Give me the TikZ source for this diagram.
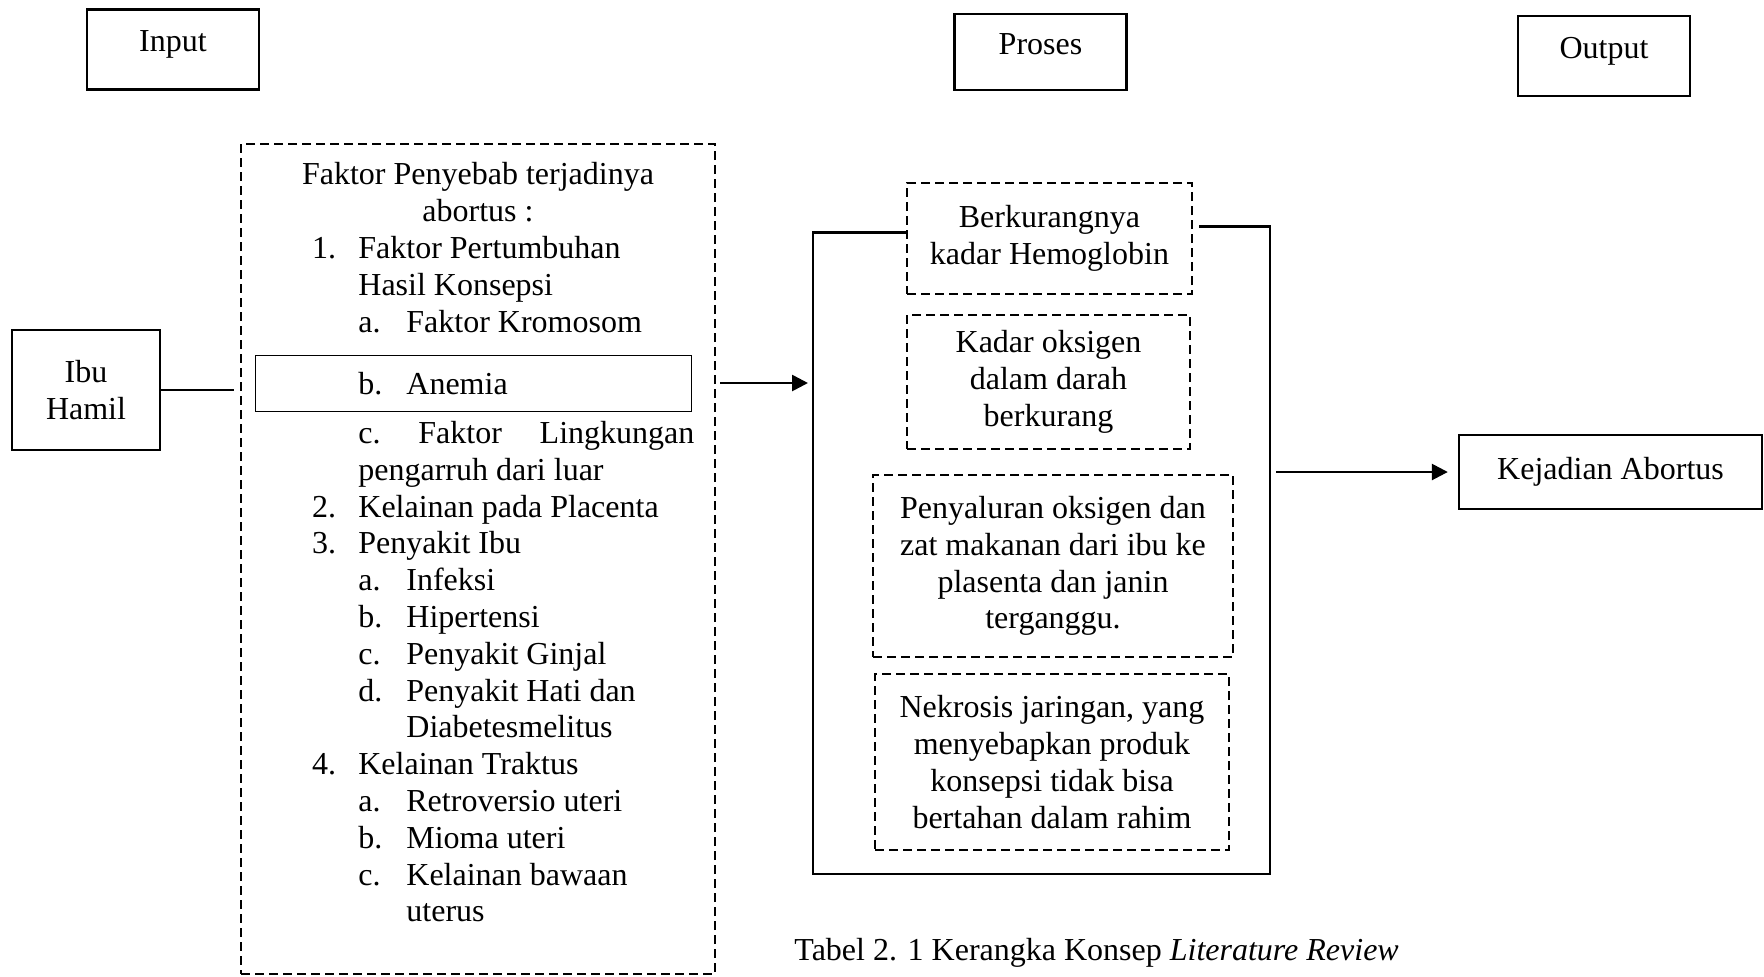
\documentclass[tikz,border=0pt]{standalone}
\usepackage{fontspec}
\setmainfont{Liberation Serif}
\usetikzlibrary{arrows.meta,
                positioning}

\newcommand{\numrow}[2]{\makebox[23.2pt][l]{#1}#2}
\newcommand{\subrow}[2]{\hspace*{23.2pt}\makebox[24pt][l]{#1}#2}
\newcommand{\controw}[1]{\hspace*{23.2pt}#1}
\newcommand{\subcont}[1]{\hspace*{47.2pt}#1}

\begin{document}
\begin{tikzpicture}[x=0.5pt, y=-0.5pt,
    font=\fontsize{16pt}{18.4pt}\selectfont,
    headbox/.style={draw, line width=1.2pt, minimum width=86pt, minimum height=40pt,
                    text height=11pt, text depth=9pt},
    solidbox/.style={draw, line width=1.2pt, align=center},
    dashbox/.style={draw, line width=1.1pt, dash pattern=on 4.5pt off 2.5pt, align=center},
    line/.style={line width=1.3pt},
    arrow/.style={line width=1.3pt, -{Triangle[length=8pt, width=8pt]}}]

    \useasboundingbox (0, 0) rectangle (1764, 976);

    \node[headbox] (input) at (173, 49.5) {Input};
    \node[headbox, minimum height=38pt] (proses) at (1040.5, 52) {Proses};
    \node[headbox] (output) at (1604, 56) {Output};

    \node[solidbox, minimum width=74pt, minimum height=60pt] (ibu) at (86, 390) {Ibu\\Hamil};

    \node[dashbox, minimum width=237pt, minimum height=415pt] (faktor) at (478, 559) {};
    \node[draw, line width=0.5pt, minimum width=218pt, minimum height=28pt] (anemia) at (473, 383) {};
    \node[anchor=north, align=center, inner sep=0pt] (faktorhead) at (478, 162)
      {Faktor Penyebab terjadinya\\abortus :};
    \node[anchor=north west, align=left, inner sep=0pt] (faktorlist) at (311.6, 236)
      {\numrow{1.}{Faktor Pertumbuhan}\\
       \controw{Hasil Konsepsi}\\
       \subrow{a.}{Faktor Kromosom}\\[12.5pt]
       \subrow{b.}{Anemia}\\[6.3pt]
       \controw{\makebox[168pt][s]{c.\hfill Faktor\hfill Lingkungan}}\\
       \controw{pengarruh dari luar}\\
       \numrow{2.}{Kelainan pada Placenta}\\
       \numrow{3.}{Penyakit Ibu}\\
       \subrow{a.}{Infeksi}\\
       \subrow{b.}{Hipertensi}\\
       \subrow{c.}{Penyakit Ginjal}\\
       \subrow{d.}{Penyakit Hati dan}\\
       \subcont{Diabetesmelitus}\\
       \numrow{4.}{Kelainan Traktus}\\
       \subrow{a.}{Retroversio uteri}\\
       \subrow{b.}{Mioma uteri}\\
       \subrow{c.}{Kelainan bawaan}\\
       \subcont{uterus}};

    \node[dashbox, minimum width=142.5pt, minimum height=55.5pt] (hb) at (1049.5, 238.5)
      {Berkurangnya\\kadar Hemoglobin};
    \node[dashbox, minimum width=141.5pt, minimum height=67pt] (oks) at (1048.5, 382)
      {Kadar oksigen\\dalam darah\\berkurang};
    \node[dashbox, minimum width=180pt, minimum height=91pt] (salur) at (1053, 566)
      {Penyaluran oksigen dan\\zat makanan dari ibu ke\\plasenta dan janin\\terganggu.};
    \node[dashbox, minimum width=177pt, minimum height=88pt] (nekro) at (1052, 762)
      {Nekrosis jaringan, yang\\menyebapkan produk\\konsepsi tidak bisa\\bertahan dalam rahim};

    \node[solidbox, minimum width=151.5pt, minimum height=37pt] (abortus) at (1610.5, 472)
      {Kejadian Abortus};

    \coordinate (bl) at (813, 874);
    \coordinate (br) at (1270, 874);

    \draw[line, shorten >=3pt] (ibu.east) -- (ibu.east -| faktor.west);
    \draw[arrow, shorten <=2pt, shorten >=2.5pt] (anemia -| faktor.east) -- (anemia -| bl);
    \draw[line] ([yshift=3pt]hb.west) -| (bl) -- (br) |- ([xshift=3pt, yshift=6pt]hb.east);
    \draw[arrow, shorten <=3pt, shorten >=5pt] (abortus -| br) -- (abortus.west);

    \node[anchor=west, inner sep=0pt] (caption) at (794, 952.5)
      {Tabel 2. 1 Kerangka Konsep \textit{Literature Review}};
\end{tikzpicture}
\end{document}
